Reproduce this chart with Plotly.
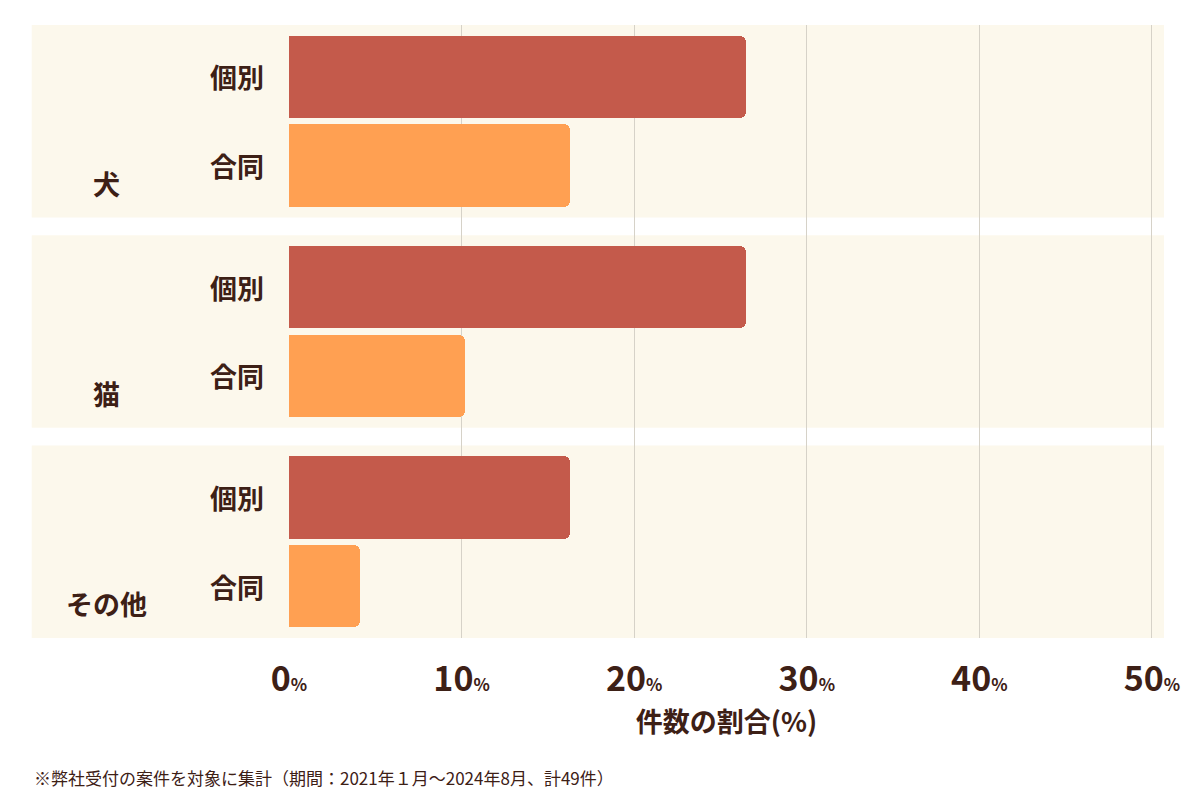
import plotly.graph_objects as go

groups = ["犬", "猫", "その他"]
kinds = ["個別", "合同"]
values = {"犬": [26.5, 16.3], "猫": [26.5, 10.2], "その他": [16.3, 4.1]}
colors = ["#c45a4b", "#ffa052"]
xticks = [0, 10, 20, 30, 40, 50]

DARK = "#3d2016"
FONT = "Noto Sans CJK JP"
STEP = 2.37
PAD = 0.584

fig = go.Figure()
for i, k in enumerate(kinds):
    ys = [g * STEP + i for g in range(len(groups))]
    xs = [values[name][i] for name in groups]
    fig.add_trace(go.Bar(x=xs, y=ys, orientation="h", width=0.93,
                         marker=dict(color=colors[i], cornerradius=6, line=dict(width=0)),
                         showlegend=False, hoverinfo="skip"))

for g, name in enumerate(groups):
    y0 = g * STEP - PAD
    y1 = g * STEP + 1 + PAD
    fig.add_shape(type="rect", xref="paper", yref="y", x0=-0.294, x1=1.0, y0=y0, y1=y1,
                  fillcolor="#fcf8ec", line=dict(width=0), layer="below")
    for i, k in enumerate(kinds):
        fig.add_annotation(xref="paper", yref="y", x=-0.059, y=g * STEP + i, text=k,
                           showarrow=False, xanchor="center",
                           font=dict(family=FONT, size=27, color=DARK, weight="bold"))
    fig.add_annotation(xref="paper", yref="y", x=-0.209, y=g * STEP + 1.2, text=name,
                       showarrow=False, xanchor="center",
                       font=dict(family=FONT, size=27, color=DARK, weight="bold"))

fig.add_annotation(xref="paper", yref="paper", x=-0.294, y=-0.228,
                   text="※弊社受付の案件を対象に集計（期間：2021年１月～2024年8月、計49件）",
                   showarrow=False, xanchor="left", yanchor="middle",
                   font=dict(family=FONT, size=17, color=DARK))

fig.update_xaxes(range=[0, 50.7], tickvals=xticks,
                 ticktext=[f"{v}<span style='font-size:17px'>%</span>" for v in xticks],
                 tickfont=dict(family=FONT, size=34, color=DARK, weight="bold"),
                 showgrid=True, gridcolor="#d6d2c8", gridwidth=1, zeroline=False,
                 ticklabelstandoff=18, ticks="",
                 title=dict(text="件数の割合(%)", standoff=12,
                            font=dict(family=FONT, size=27, color=DARK, weight="bold")))
fig.update_yaxes(range=[(len(groups) - 1) * STEP + 1 + PAD, -PAD], showticklabels=False,
                 showgrid=False, zeroline=False)
fig.update_layout(width=1184, height=784, margin=dict(l=281, r=22, t=17, b=154),
                  paper_bgcolor="white", plot_bgcolor="rgba(0,0,0,0)", bargap=0)
fig.write_html("out.html")
